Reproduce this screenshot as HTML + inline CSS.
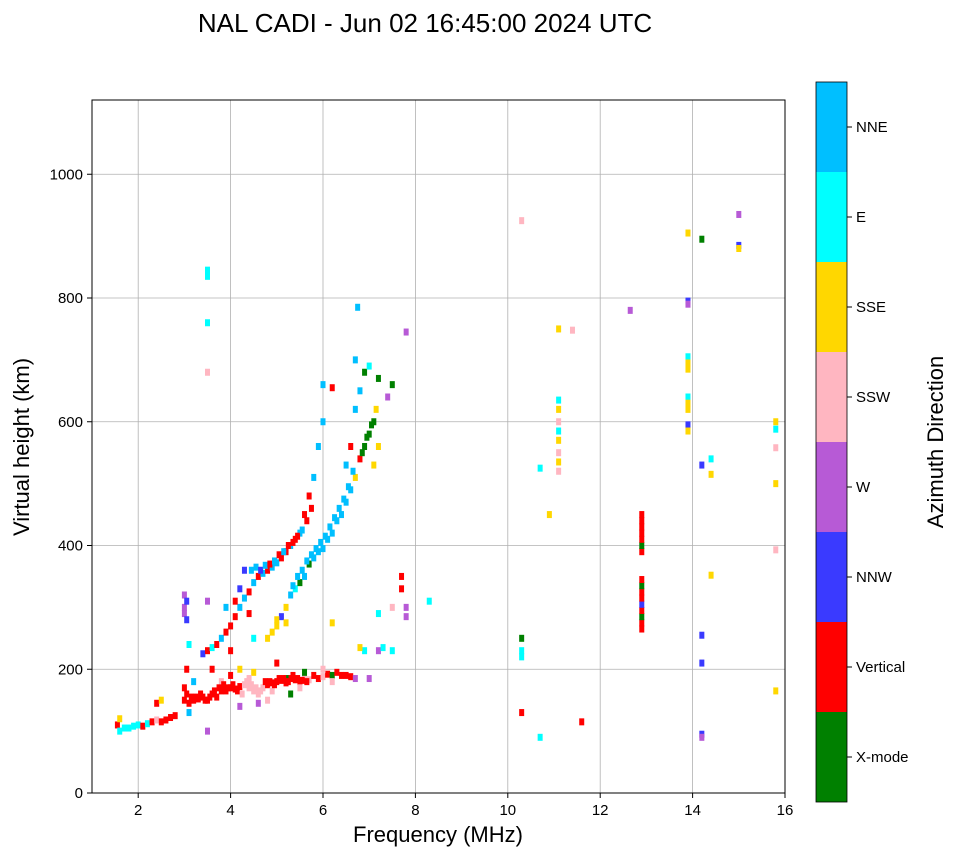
<!DOCTYPE html>
<html><head><meta charset="utf-8">
<style>
body{margin:0;background:#fff;font-family:"Liberation Sans",sans-serif;}
svg text{font-family:"Liberation Sans",sans-serif;}
</style></head>
<body>
<svg id="chart" width="958" height="857" xmlns="http://www.w3.org/2000/svg">
<text x="425" y="32" font-size="26" text-anchor="middle">NAL CADI - Jun 02 16:45:00 2024 UTC</text>
<g id="grid"></g>
<g id="marks"></g>
<rect x="92" y="100" width="693" height="693" fill="none" stroke="#000" stroke-width="1"/>
<g id="ticks"></g>
<text x="438" y="842" font-size="22" text-anchor="middle">Frequency (MHz)</text>
<text transform="translate(29,447) rotate(-90)" font-size="22" text-anchor="middle">Virtual height (km)</text>
<g id="cbar"></g>
<text transform="translate(943,442) rotate(-90)" font-size="22" text-anchor="middle">Azimuth Direction</text>
</svg>
<script>
const dirLabels=["X-mode","Vertical","NNW","W","SSW","SSE","E","NNE"];
const dirColors=["#008000","#ff0000","#3a3aff","#b75ad6","#ffb6c1","#ffd700","#00ffff","#00bfff"];
const xTicks=[2,4,6,8,10,12,14,16];
const yTicks=[0,200,400,600,800,1000];
const freq=[1.55,1.6,1.6,1.7,1.8,1.9,2.0,2.1,2.2,2.3,2.4,2.5,2.6,2.7,2.8,2.4,2.5,
3.0,3.1,3.2,3.3,3.4,3.5,3.6,3.7,3.8,3.9,4.0,4.1,4.2,4.3,4.4,4.5,4.6,4.7,4.8,4.9,5.0,5.1,5.2,5.3,5.4,5.5,5.6,5.7,5.8,5.9,6.0,6.1,6.2,6.3,6.4,6.5,6.6,6.7,7.0,3.0,3.2,3.1,3.6,4.0,4.2,4.5,5.0,5.2,5.3,4.8,4.6,4.2,3.8,4.4,5.6,6.0,6.2,5.5,4.9,
3.4,3.5,3.6,3.7,3.8,3.9,4.0,4.1,4.2,4.3,4.4,4.5,4.6,4.7,4.8,4.9,5.0,5.1,5.2,5.3,5.4,5.5,5.6,5.7,5.8,5.9,6.0,6.0,6.2,4.3,4.2,4.1,3.9,4.0,4.4,
4.8,4.9,5.0,5.1,5.2,5.3,5.4,5.5,5.6,5.7,5.8,5.9,6.0,6.1,6.2,6.3,6.4,6.5,6.6,6.7,6.8,6.9,7.0,7.1,6.7,6.8,6.9,7.0,7.2,6.7,6.75,7.1,7.2,6.6,6.5,
3.5,3.5,3.5,3.5,3.0,3.0,3.0,3.1,3.5,3.5,4.5,5.0,5.2,6.2,6.9,6.8,7.2,7.3,7.5,7.2,7.5,7.8,7.8,7.7,7.7,7.8,8.3,7.5,7.4,
10.3,10.3,10.3,10.3,10.3,10.7,10.7,10.9,11.1,11.4,11.1,11.1,11.1,11.1,11.1,11.1,11.1,11.1,11.6,12.65,
12.9,12.9,12.9,12.9,12.9,12.9,12.9,12.9,12.9,12.9,12.9,12.9,12.9,12.9,12.9,12.9,
13.9,13.9,13.9,13.9,13.9,13.9,13.9,13.9,13.9,13.9,13.9,14.2,14.2,14.2,14.2,14.2,14.2,14.4,14.4,14.4,15.0,15.0,15.0,15.8,15.8,15.8,15.8,15.8,15.8,
3.05,3.15,3.25,3.35,3.45,3.55,3.65,3.75,3.85,3.95,4.05,4.15,4.25,4.35,4.45,4.55,4.65,4.75,4.85,4.95,5.05,5.15,5.25,5.35,5.45,5.55,5.65,
4.45,4.55,4.65,4.75,4.85,4.95,5.05,5.15,5.25,5.35,5.45,5.55,5.65,5.75,
5.35,5.45,5.55,5.65,5.75,5.85,5.95,6.05,6.15,6.25,6.35,6.45,6.55,6.65,6.85,6.95,7.05,7.15,3.05,3.05,3.05];
const height=[110,100,120,105,105,108,110,108,112,115,118,115,118,122,125,145,150,
150,145,150,152,155,150,160,155,165,165,170,168,172,175,170,165,160,170,175,178,180,182,178,185,183,180,185,183,190,185,188,192,190,195,190,190,188,185,185,170,180,130,200,190,200,195,210,185,160,150,145,140,180,185,195,200,180,170,165,
225,230,235,240,250,260,270,285,300,315,325,340,350,355,360,365,372,380,390,400,410,420,450,480,510,560,600,660,655,360,330,310,300,230,290,
250,260,270,285,300,320,330,340,350,370,380,390,395,410,420,440,450,470,490,510,540,560,580,600,620,650,680,690,670,700,785,530,560,560,530,
845,835,760,680,320,300,290,240,310,100,250,280,275,275,230,235,230,235,230,290,300,300,285,350,330,745,310,660,640,
925,250,230,220,130,90,525,450,750,748,635,620,600,585,570,550,535,520,115,780,
265,275,285,295,305,315,325,335,345,390,400,410,420,430,440,450,
905,795,790,705,695,685,640,630,620,595,585,895,530,255,210,95,90,540,515,352,935,885,880,600,588,500,165,558,393,
160,155,155,160,150,155,165,170,175,170,175,165,160,180,175,170,165,180,180,175,185,185,180,190,185,182,180,
360,365,360,368,370,375,385,390,400,405,415,425,440,460,
335,350,360,375,385,395,405,415,430,445,460,475,495,520,550,575,595,620,310,280,200];
const dir=[1,6,5,6,6,6,6,1,6,1,4,1,1,1,1,1,5,
1,1,1,1,1,1,1,1,1,1,1,1,1,4,4,4,4,4,1,1,1,1,1,1,1,1,4,4,1,1,4,1,0,1,1,1,1,3,3,1,7,7,1,1,5,5,1,0,0,4,3,3,4,4,0,4,4,4,4,
2,1,6,1,7,1,1,1,7,7,1,7,1,7,1,7,7,1,1,7,1,7,1,1,7,7,7,7,1,2,2,1,7,1,1,
5,5,5,2,5,7,6,0,7,0,7,7,7,7,7,7,7,7,7,5,1,0,0,0,7,7,0,6,0,7,7,5,5,1,7,
6,6,6,4,3,3,3,6,3,3,6,5,5,5,6,5,3,6,6,6,4,3,3,1,1,3,6,0,3,
4,0,6,6,1,6,6,5,5,4,6,5,4,6,5,4,5,4,1,3,
1,1,0,1,2,1,1,0,1,1,0,1,1,1,1,1,
5,2,3,6,5,5,6,5,5,2,5,0,2,2,2,2,3,6,5,5,3,2,5,5,6,5,5,4,4,
1,1,1,1,1,1,1,1,1,1,1,1,4,4,4,4,4,1,1,1,1,1,1,1,1,1,1,
7,7,2,7,1,7,1,7,1,1,1,7,1,1,
7,7,7,7,7,7,7,7,7,7,7,7,7,7,0,0,0,5,2,2,1];
const NS="http://www.w3.org/2000/svg";
const X0=92,X1=785,Y0=793,Y1=100;
function xs(f){return X0+(f-1)/15*(X1-X0);}
function ys(h){return Y0-h/1120*(Y0-Y1);}
function mk(tag,at,parent){const e=document.createElementNS(NS,tag);for(const k in at)e.setAttribute(k,at[k]);parent.appendChild(e);return e;}
const grid=document.getElementById('grid'),ticks=document.getElementById('ticks'),marks=document.getElementById('marks'),cbar=document.getElementById('cbar');
xTicks.forEach(t=>{
 const g=mk('line',{x1:xs(t),x2:xs(t),y1:Y1,y2:Y0,stroke:'#b0b0b0','stroke-width':0.8},grid);
 
 
 const tk=mk('line',{x1:xs(t),x2:xs(t),y1:Y0,y2:Y0+5,stroke:'#000'},ticks);
 
 
 const tx=mk('text',{x:xs(t),y:Y0+22,'font-size':15,'text-anchor':'middle'},ticks);
 tx.textContent=t;
 
 
});
yTicks.forEach(t=>{
 const g=mk('line',{x1:X0,x2:X1,y1:ys(t),y2:ys(t),stroke:'#b0b0b0','stroke-width':0.8},grid);
 
 
 const tk=mk('line',{x1:X0-5,x2:X0,y1:ys(t),y2:ys(t),stroke:'#000'},ticks);
 
 
 const tx=mk('text',{x:X0-9,y:ys(t)+5,'font-size':15,'text-anchor':'end'},ticks);
 tx.textContent=t;
 
 
});
for(let i=0;i<freq.length;i++){
 const r=mk('rect',{x:xs(freq[i])-2.5,y:ys(height[i])-3.5,width:5,height:7,fill:dirColors[dir[i]]},marks);
 
 
}
const CB0=802,CBH=90;
dirLabels.forEach((l,i)=>{
 const y=CB0-(i+1)*CBH;
 const r=mk('rect',{x:816,y:y,width:31,height:CBH,fill:dirColors[i]},cbar);
 
 
 const tk=mk('line',{x1:847,x2:852,y1:y+CBH/2,y2:y+CBH/2,stroke:'#000'},cbar);
 
 
 const tx=mk('text',{x:856,y:y+CBH/2+5,'font-size':15},cbar);
 tx.textContent=l;
 
 
});
const fr=mk('rect',{x:816,y:82,width:31,height:720,fill:'none',stroke:'#000','stroke-width':0.8},cbar);


</script>
</body></html>
